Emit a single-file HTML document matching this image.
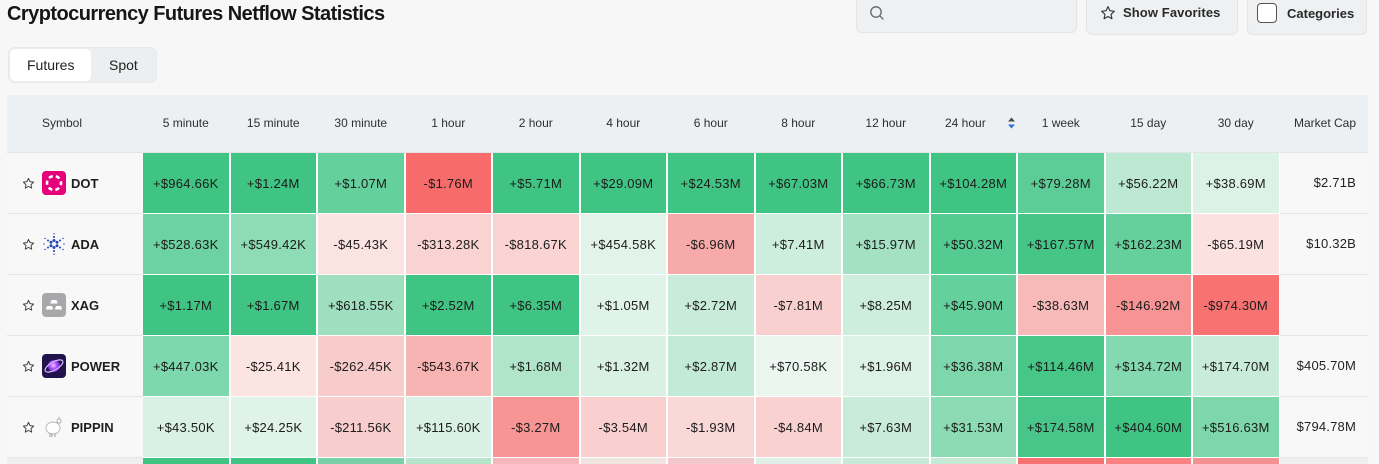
<!DOCTYPE html>
<html><head><meta charset="utf-8">
<style>
*{box-sizing:border-box;margin:0;padding:0}
html,body{width:1379px;height:464px;overflow:hidden;background:#f7f7f7;font-family:"Liberation Sans",Arial,sans-serif;color:#1f1f1f}
.wrap{position:relative;width:1379px;height:464px;overflow:hidden}
.abs{position:absolute}
.title{left:7px;top:4px;font-size:20px;line-height:20px;font-weight:bold;letter-spacing:-0.55px;color:#161616;white-space:nowrap}
.search{left:856px;top:-6px;width:221px;height:39px;background:#eef0f2;border:1px solid #e1e4e7;border-radius:6px}
.btn{top:-6px;height:41px;background:#eef0f2;border:1px solid #e3e6e9;border-radius:6px}
.btxt{font-size:13px;font-weight:bold;color:#2a2a2a;white-space:nowrap;line-height:16px}
.tabs{left:8px;top:47px;width:149px;height:36px;background:#eceef0;border:1px solid #e6e8ea;border-radius:7px}
.pill{left:10px;top:49px;width:81px;height:32px;background:#fff;border-radius:5px}
.tabt{font-size:14px;line-height:16px;color:#222;top:57px}
.head{left:7px;top:95px;width:1361px;height:58px;background:#edf0f2;border-bottom:1px solid #e2e5e8}
.ht{font-size:12px;line-height:14px;color:#2e2e2e;top:116px;text-align:center;white-space:nowrap}
.row{position:absolute;left:0;width:1379px;height:61px}
.sym{position:absolute;left:7px;top:0;width:136px;height:61px;background:#f8f8f8;border-bottom:1px solid #e5e5e5}
.mc{position:absolute;left:1280px;top:0;width:88px;height:61px;background:#f8f8f8;border-bottom:1px solid #e5e5e5;font-size:13px;letter-spacing:0.2px;display:flex;align-items:center;justify-content:flex-end;padding-right:12px;padding-bottom:1px;color:#222}
.cells{position:absolute;left:143px;top:0;height:60px;display:flex;gap:2px}
.cells div{width:85.5px;height:60px;display:flex;align-items:center;justify-content:center;font-size:13px;letter-spacing:0.25px;color:#1c1c1c;white-space:nowrap}
.star{position:absolute;left:15px;top:24px}
.ico{position:absolute;left:35px;top:18px}
.name{position:absolute;left:64px;top:0;height:60px;display:flex;align-items:center;font-size:13px;font-weight:bold;color:#1e1e1e}
.whitebg{left:143px;top:153px;width:1137px;height:311px;background:#fff}
</style></head><body><div class="wrap">

<div class="abs title">Cryptocurrency Futures Netflow Statistics</div>

<div class="abs search"></div>
<svg class="abs" style="left:869px;top:5px" width="16" height="16" viewBox="0 0 16 16"><circle cx="7" cy="7" r="5.2" fill="none" stroke="#666" stroke-width="1.3"/><line x1="10.8" y1="10.8" x2="14" y2="14" stroke="#666" stroke-width="1.3" stroke-linecap="round"/></svg>

<div class="abs btn" style="left:1086px;width:152px"></div>
<svg class="abs" style="left:1100px;top:5px" width="16" height="16" viewBox="0 0 24 24"><path d="M12 2.5l2.9 6.1 6.6.8-4.9 4.6 1.3 6.6L12 17.3 6.1 20.6l1.3-6.6L2.5 9.4l6.6-.8z" fill="none" stroke="#333" stroke-width="1.7" stroke-linejoin="round"/></svg>
<div class="abs btxt" style="left:1123px;top:5px;letter-spacing:0.1px">Show Favorites</div>

<div class="abs btn" style="left:1247px;width:120px"></div>
<div class="abs" style="left:1257px;top:3px;width:20px;height:20px;border:1.5px solid #555;border-radius:4px;background:#fff"></div>
<div class="abs btxt" style="left:1287px;top:6px">Categories</div>

<div class="abs tabs"></div>
<div class="abs pill"></div>
<div class="abs tabt" style="left:27px">Futures</div>
<div class="abs tabt" style="left:109px">Spot</div>

<div class="abs head"></div>
<div class="abs ht" style="left:42px">Symbol</div>
<div class="abs ht" style="left:143px;width:85.5px">5 minute</div>
<div class="abs ht" style="left:230.5px;width:85.5px">15 minute</div>
<div class="abs ht" style="left:318px;width:85.5px">30 minute</div>
<div class="abs ht" style="left:405.5px;width:85.5px">1 hour</div>
<div class="abs ht" style="left:493px;width:85.5px">2 hour</div>
<div class="abs ht" style="left:580.5px;width:85.5px">4 hour</div>
<div class="abs ht" style="left:668px;width:85.5px">6 hour</div>
<div class="abs ht" style="left:755.5px;width:85.5px">8 hour</div>
<div class="abs ht" style="left:843px;width:85.5px">12 hour</div>
<div class="abs ht" style="left:945px">24 hour</div>
<svg class="abs" style="left:1007px;top:117px" width="9" height="12" viewBox="0 0 9 12"><path d="M4.5 0.5L8 4.5H1z" fill="#4a4a4a"/><path d="M4.5 11.5L8 7.5H1z" fill="#2f6fd6"/></svg>
<div class="abs ht" style="left:1018px;width:85.5px">1 week</div>
<div class="abs ht" style="left:1105.5px;width:85.5px">15 day</div>
<div class="abs ht" style="left:1193px;width:85.5px">30 day</div>
<div class="abs ht" style="left:1294px">Market Cap</div>

<div class="abs whitebg"></div>

<!-- Row DOT -->
<div class="row" style="top:153px">
 <div class="sym">
  <svg class="star" width="13" height="13" viewBox="0 0 24 24"><path d="M12 2.5l2.9 6.1 6.6.8-4.9 4.6 1.3 6.6L12 17.3 6.1 20.6l1.3-6.6L2.5 9.4l6.6-.8z" fill="none" stroke="#444" stroke-width="1.8" stroke-linejoin="round"/></svg>
  <svg class="ico" width="24" height="24" viewBox="0 0 24 24"><rect width="24" height="24" rx="4" fill="#e6007a"/><circle cx="12" cy="12" r="7" fill="none" stroke="#fff" stroke-width="2.6" stroke-dasharray="4.2 3.13" stroke-dashoffset="2"/></svg>
  <div class="name">DOT</div>
 </div>
 <div class="cells">
  <div style="background:#40c483">+$964.66K</div>
  <div style="background:#40c483">+$1.24M</div>
  <div style="background:#64d09c">+$1.07M</div>
  <div style="background:#f86b6b">-$1.76M</div>
  <div style="background:#40c483">+$5.71M</div>
  <div style="background:#40c483">+$29.09M</div>
  <div style="background:#40c483">+$24.53M</div>
  <div style="background:#40c483">+$67.03M</div>
  <div style="background:#40c483">+$66.73M</div>
  <div style="background:#40c483">+$104.28M</div>
  <div style="background:#5dcd97">+$79.28M</div>
  <div style="background:#bde9d2">+$56.22M</div>
  <div style="background:#ddf2e7">+$38.69M</div>
 </div>
 <div class="mc">$2.71B</div>
</div>

<!-- Row ADA -->
<div class="row" style="top:214px">
 <div class="sym">
  <svg class="star" width="13" height="13" viewBox="0 0 24 24"><path d="M12 2.5l2.9 6.1 6.6.8-4.9 4.6 1.3 6.6L12 17.3 6.1 20.6l1.3-6.6L2.5 9.4l6.6-.8z" fill="none" stroke="#444" stroke-width="1.8" stroke-linejoin="round"/></svg>
  <svg class="ico" width="24" height="24" viewBox="0 0 24 24">
   <g fill="#2447b5">
    <circle cx="12" cy="8.5" r="1.5"/><circle cx="12" cy="15.5" r="1.5"/><circle cx="9" cy="10.2" r="1.5"/><circle cx="15" cy="10.2" r="1.5"/><circle cx="9" cy="13.8" r="1.5"/><circle cx="15" cy="13.8" r="1.5"/>
    <circle cx="12" cy="5" r="1"/><circle cx="12" cy="19" r="1"/><circle cx="6" cy="8.5" r="1"/><circle cx="18" cy="8.5" r="1"/><circle cx="6" cy="15.5" r="1"/><circle cx="18" cy="15.5" r="1"/>
    <circle cx="12" cy="1.8" r="0.7"/><circle cx="12" cy="22.2" r="0.7"/><circle cx="3" cy="6.5" r="0.7"/><circle cx="21" cy="6.5" r="0.7"/><circle cx="3" cy="17.5" r="0.7"/><circle cx="21" cy="17.5" r="0.7"/><circle cx="2" cy="12" r="0.7"/><circle cx="22" cy="12" r="0.7"/>
   </g></svg>
  <div class="name">ADA</div>
 </div>
 <div class="cells">
  <div style="background:#6cd2a1">+$528.63K</div>
  <div style="background:#8ddcb5">+$549.42K</div>
  <div style="background:#fbe3e1">-$45.43K</div>
  <div style="background:#f9d3d2">-$313.28K</div>
  <div style="background:#f9d4d3">-$818.67K</div>
  <div style="background:#e2f4ea">+$454.58K</div>
  <div style="background:#f7aaaa">-$6.96M</div>
  <div style="background:#cdeedc">+$7.41M</div>
  <div style="background:#a3e1c2">+$15.97M</div>
  <div style="background:#54cb91">+$50.32M</div>
  <div style="background:#45c687">+$167.57M</div>
  <div style="background:#66d09c">+$162.23M</div>
  <div style="background:#fbe1e0">-$65.19M</div>
 </div>
 <div class="mc">$10.32B</div>
</div>

<!-- Row XAG -->
<div class="row" style="top:275px">
 <div class="sym">
  <svg class="star" width="13" height="13" viewBox="0 0 24 24"><path d="M12 2.5l2.9 6.1 6.6.8-4.9 4.6 1.3 6.6L12 17.3 6.1 20.6l1.3-6.6L2.5 9.4l6.6-.8z" fill="none" stroke="#444" stroke-width="1.8" stroke-linejoin="round"/></svg>
  <svg class="ico" width="24" height="24" viewBox="0 0 24 24"><rect width="24" height="24" rx="4" fill="#a8a8aa"/><g fill="#fff"><path d="M9.5 7h5l1.2 3.5h-7.4z"/><path d="M5 13h5l1.2 3.5H3.8z"/><path d="M14 13h5l1.2 3.5h-7.4z"/></g></svg>
  <div class="name">XAG</div>
 </div>
 <div class="cells">
  <div style="background:#40c483">+$1.17M</div>
  <div style="background:#40c483">+$1.67M</div>
  <div style="background:#9fdfbf">+$618.55K</div>
  <div style="background:#40c483">+$2.52M</div>
  <div style="background:#40c483">+$6.35M</div>
  <div style="background:#e0f3e9">+$1.05M</div>
  <div style="background:#c8ecd9">+$2.72M</div>
  <div style="background:#f9d0d0">-$7.81M</div>
  <div style="background:#cdeedb">+$8.25M</div>
  <div style="background:#64d09c">+$45.90M</div>
  <div style="background:#f8b9b9">-$38.63M</div>
  <div style="background:#f79393">-$146.92M</div>
  <div style="background:#f87272">-$974.30M</div>
 </div>
 <div class="mc"></div>
</div>

<!-- Row POWER -->
<div class="row" style="top:336px">
 <div class="sym">
  <svg class="star" width="13" height="13" viewBox="0 0 24 24"><path d="M12 2.5l2.9 6.1 6.6.8-4.9 4.6 1.3 6.6L12 17.3 6.1 20.6l1.3-6.6L2.5 9.4l6.6-.8z" fill="none" stroke="#444" stroke-width="1.8" stroke-linejoin="round"/></svg>
  <svg class="ico" width="24" height="24" viewBox="0 0 24 24"><defs><radialGradient id="pg" cx="0.45" cy="0.45" r="0.6"><stop offset="0" stop-color="#f0c8ff"/><stop offset="0.5" stop-color="#a74dff"/><stop offset="1" stop-color="#5a1fb5"/></radialGradient></defs><rect width="24" height="24" rx="4" fill="#21144a"/><circle cx="12" cy="12" r="6" fill="url(#pg)"/><ellipse cx="12" cy="12" rx="10" ry="4" fill="none" stroke="#d9b6ff" stroke-width="1.2" transform="rotate(-30 12 12)"/></svg>
  <div class="name">POWER</div>
 </div>
 <div class="cells">
  <div style="background:#7ed8ad">+$447.03K</div>
  <div style="background:#fbe4e2">-$25.41K</div>
  <div style="background:#f9cccc">-$262.45K</div>
  <div style="background:#f8b3b3">-$543.67K</div>
  <div style="background:#b0e5ca">+$1.68M</div>
  <div style="background:#d8f1e3">+$1.32M</div>
  <div style="background:#c3ead6">+$2.87M</div>
  <div style="background:#ebf6f0">+$70.58K</div>
  <div style="background:#dcf2e6">+$1.96M</div>
  <div style="background:#7dd7ab">+$36.38M</div>
  <div style="background:#46c687">+$114.46M</div>
  <div style="background:#85d9b0">+$134.72M</div>
  <div style="background:#c9ecda">+$174.70M</div>
 </div>
 <div class="mc">$405.70M</div>
</div>

<!-- Row PIPPIN -->
<div class="row" style="top:397px">
 <div class="sym">
  <svg class="star" width="13" height="13" viewBox="0 0 24 24"><path d="M12 2.5l2.9 6.1 6.6.8-4.9 4.6 1.3 6.6L12 17.3 6.1 20.6l1.3-6.6L2.5 9.4l6.6-.8z" fill="none" stroke="#444" stroke-width="1.8" stroke-linejoin="round"/></svg>
  <svg class="ico" width="24" height="24" viewBox="0 0 24 24"><ellipse cx="11" cy="13" rx="7" ry="6" fill="#fff" stroke="#b5b5b5" stroke-width="0.9"/><circle cx="17" cy="6" r="2" fill="#fff" stroke="#999" stroke-width="0.8"/><line x1="17" y1="4" x2="17" y2="2" stroke="#999" stroke-width="0.8"/><g stroke="#888" stroke-width="0.8"><line x1="8" y1="18.5" x2="8" y2="22"/><line x1="10" y1="18.8" x2="10" y2="22"/><line x1="13" y1="18.8" x2="13" y2="22"/></g></svg>
  <div class="name">PIPPIN</div>
 </div>
 <div class="cells">
  <div style="background:#d9f1e4">+$43.50K</div>
  <div style="background:#dff3e8">+$24.25K</div>
  <div style="background:#f8cdcd">-$211.56K</div>
  <div style="background:#d8f1e4">+$115.60K</div>
  <div style="background:#f79595">-$3.27M</div>
  <div style="background:#f9cfcf">-$3.54M</div>
  <div style="background:#fad8d8">-$1.93M</div>
  <div style="background:#f9d1d1">-$4.84M</div>
  <div style="background:#c8ecd9">+$7.63M</div>
  <div style="background:#8cdbb4">+$31.53M</div>
  <div style="background:#48c689">+$174.58M</div>
  <div style="background:#40c483">+$404.60M</div>
  <div style="background:#7dd7ab">+$516.63M</div>
 </div>
 <div class="mc">$794.78M</div>
</div>

<!-- Partial row -->
<div class="row" style="top:458px;height:6px;overflow:hidden">
 <div class="sym" style="background:#eeeff0;height:6px;border:0"></div>
 <div class="cells" style="height:6px">
  <div style="background:#40c483;height:6px"></div>
  <div style="background:#40c483;height:6px"></div>
  <div style="background:#79d0a8;height:6px"></div>
  <div style="background:#b6e5cc;height:6px"></div>
  <div style="background:#f4b8ba;height:6px"></div>
  <div style="background:#f0e4df;height:6px"></div>
  <div style="background:#f3c7cb;height:6px"></div>
  <div style="background:#dff0e8;height:6px"></div>
  <div style="background:#c6ead6;height:6px"></div>
  <div style="background:#c6e9d4;height:6px"></div>
  <div style="background:#f87171;height:6px"></div>
  <div style="background:#f98383;height:6px"></div>
  <div style="background:#f68f8f;height:6px"></div>
 </div>
 <div class="mc" style="background:#eeeff0;height:6px;border:0"></div>
</div>

</div></body></html>
